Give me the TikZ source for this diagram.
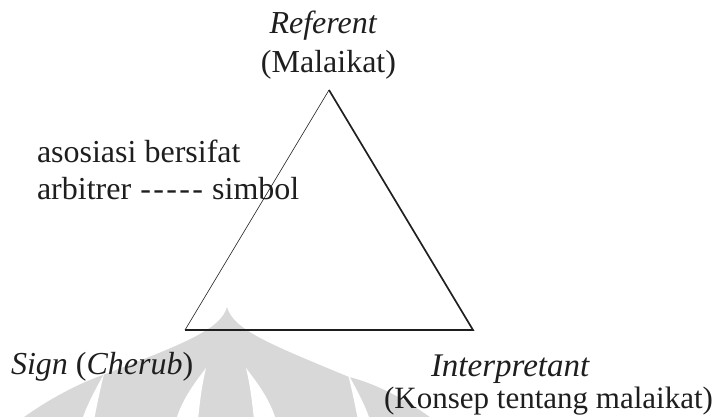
\documentclass[tikz,border=0pt]{standalone}
\usepackage{fontspec}
\setmainfont{Liberation Serif}
\definecolor{wm}{RGB}{216,216,216}
\definecolor{ink}{RGB}{30,30,30}
\newcommand{\dsh}{\makebox[13pt]{-}}
\begin{document}
\begin{tikzpicture}[x=1pt,y=-1pt,
  lbl/.style={inner sep=0pt, outer sep=0pt, font=\fontsize{32}{38}\selectfont, text=ink},
  thinedge/.style={draw=ink, line width=0.6pt},
  thickedge/.style={draw=ink, line width=1.7pt, line join=miter}]
\useasboundingbox (0,0) rectangle (715,416);
% faint watermark
\begin{scope}
\clip (0,0) rectangle (715,416);
\fill[wm] (227,307) .. controls (221,330) and (180,345) .. (103,375)
  .. controls (80,383) and (50,398) .. (20,420) -- (434,420)
  .. controls (404,398) and (374,383) .. (349,377)
  .. controls (272,345) and (233,330) .. (227,307) -- cycle;
\fill[white] (104,374) .. controls (95,390) and (87,405) .. (82,420) -- (94,420) .. controls (97,405) and (100,390) .. (104,374) -- cycle;
\fill[white] (206,368) .. controls (193,385) and (182,400) .. (176,420) -- (198,420) .. controls (200,400) and (202,385) .. (206,368) -- cycle;
\fill[white] (246,368) .. controls (259,385) and (270,400) .. (276,420) -- (254,420) .. controls (252,400) and (250,385) .. (246,368) -- cycle;
\fill[white] (348,374) .. controls (357,390) and (365,405) .. (370,420) -- (358,420) .. controls (355,405) and (352,390) .. (348,374) -- cycle;
\end{scope}
% triangle
\coordinate (apex) at (329,90);
\coordinate (bl) at (185,330);
\coordinate (br) at (473,330);
\draw[thinedge] (bl) -- (apex);
\draw[thickedge] (apex) -- (br) -- (bl);
% labels
\node[lbl, anchor=base] (ref) at (323.5,33) {\textit{Referent}};
\node[lbl, anchor=base] (mal) at (328.5,72) {(Malaikat)};
\node[lbl, anchor=base west] (asos1) at (37,162) {asosiasi bersifat};
\node[lbl, anchor=base west] (asos2) at (37,199) {arbitrer \dsh\dsh\dsh\dsh\dsh\ simbol};
\node[lbl, anchor=base west] (sign) at (11,374) {\textit{Sign} (\textit{Cherub})};
\node[lbl, anchor=base west, font=\fontsize{33}{38}\selectfont] (interp) at (431,376) {\textit{Interpretant}};
\node[lbl, anchor=base east, font=\fontsize{31}{37}\selectfont] (konsep) at (713,408) {(Konsep tentang malaikat)};
\end{tikzpicture}
\end{document}
